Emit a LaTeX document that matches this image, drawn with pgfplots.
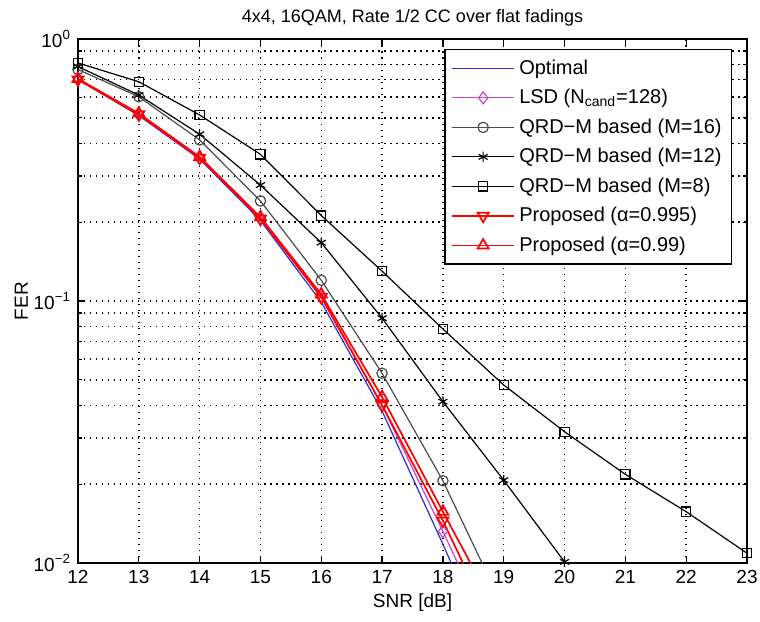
\documentclass[border=0pt]{standalone}
\usepackage{pgfplots}
\pgfplotsset{compat=1.18}
\usepackage{fontspec}
\setmainfont{Liberation Sans}

\definecolor{optblue}{RGB}{45,45,215}
\definecolor{lsdmag}{RGB}{200,70,200}
\definecolor{m16gray}{RGB}{125,125,125}

\begin{document}
\begin{tikzpicture}[font=\fontsize{9.5}{11}\selectfont]
\begin{axis}[
    scale only axis,
    width=334.5pt, height=262pt,
    ymode=log,
    xmin=12, xmax=23, ymin=1e-2, ymax=1,
    xtick={12,...,23},
    ytick={1e-2,1e-1,1},
    yticklabels={10\textsuperscript{−2},10\textsuperscript{−1},10\textsuperscript{0}},
    minor ytick={0.02,0.03,0.04,0.05,0.06,0.07,0.08,0.09,0.2,0.3,0.4,0.5,0.6,0.7,0.8,0.9},
    grid=both,
    major grid style={black, line width=0.75pt, dash pattern=on 0.75pt off 2.25pt},
    minor grid style={black, line width=0.75pt, dash pattern=on 0.75pt off 2.25pt},
    tick align=inside,
    major tick length=3.5pt, minor tick length=2pt,
    every tick/.style={black, line width=0.6pt},
    axis line style={line width=0.7pt},
    /pgf/number format/assume math mode=true,
    title={4x4, 16QAM, Rate 1/2 CC over flat fadings},
    title style={yshift=-3pt, font=\fontsize{9}{11}\selectfont},
    xlabel={SNR [dB]},
    ylabel={FER},
    xlabel style={yshift=2pt},
    ylabel style={yshift=-4pt},
    legend cell align=left,
    legend style={at={(0.978,0.981)}, anchor=north east, draw=black, fill=white,
        line width=0.7pt, font=\fontsize{10}{11}\selectfont, row sep=2pt,
        inner sep=3pt},
    legend image code/.code={%
        \draw[mark repeat=2, mark phase=2] plot coordinates {(0cm,0cm) (0.55cm,0cm) (1.1cm,0cm)};},
    every axis plot/.append style={line width=0.6pt},
]
\addplot[optblue] coordinates {
    (12,0.700) (13,0.510) (14,0.348) (15,0.203) (16,0.099) (17,0.038) (18,0.0118) (19,0.0035)
};
\addlegendentry{Optimal}
\addplot[lsdmag, mark=diamond, mark size=3pt] coordinates {
    (12,0.701) (13,0.514) (14,0.351) (15,0.206) (16,0.103) (17,0.040) (18,0.0132) (19,0.0042)
};
\addlegendentry{LSD (N\textsubscript{cand}=128)}
\addplot[m16gray!60!black, mark=o, mark size=2.6pt] coordinates {
    (12,0.765) (13,0.602) (14,0.412) (15,0.241) (16,0.120) (17,0.053) (18,0.0206) (19,0.0067)
};
\addlegendentry{QRD−M based (M=16)}
\addplot[black, mark=asterisk, mark size=2.6pt] coordinates {
    (12,0.785) (13,0.611) (14,0.433) (15,0.277) (16,0.167) (17,0.086) (18,0.0413) (19,0.0207) (20,0.0101)
};
\addlegendentry{QRD−M based (M=12)}
\addplot[black, mark=square, mark size=2.3pt] coordinates {
    (12,0.810) (13,0.687) (14,0.513) (15,0.363) (16,0.212) (17,0.130) (18,0.0782) (19,0.0478)
    (20,0.0317) (21,0.0218) (22,0.0157) (23,0.0109)
};
\addlegendentry{QRD−M based (M=8)}
\addplot[red, line width=0.85pt, mark=triangle, mark size=3.2pt, mark options={rotate=180}] coordinates {
    (12,0.700) (13,0.515) (14,0.352) (15,0.206) (16,0.1035) (17,0.040) (18,0.0145) (19,0.0047)
};
\addlegendentry{Proposed (α=0.995)}
\addplot[red, line width=0.85pt, mark=triangle, mark size=3.2pt] coordinates {
    (12,0.705) (13,0.520) (14,0.355) (15,0.209) (16,0.106) (17,0.043) (18,0.0157) (19,0.0058)
};
\addlegendentry{Proposed (α=0.99)}
\end{axis}
\pgfresetboundingbox
\path (-39pt,-29pt) rectangle (341pt,281.5pt);
\end{tikzpicture}
\end{document}
